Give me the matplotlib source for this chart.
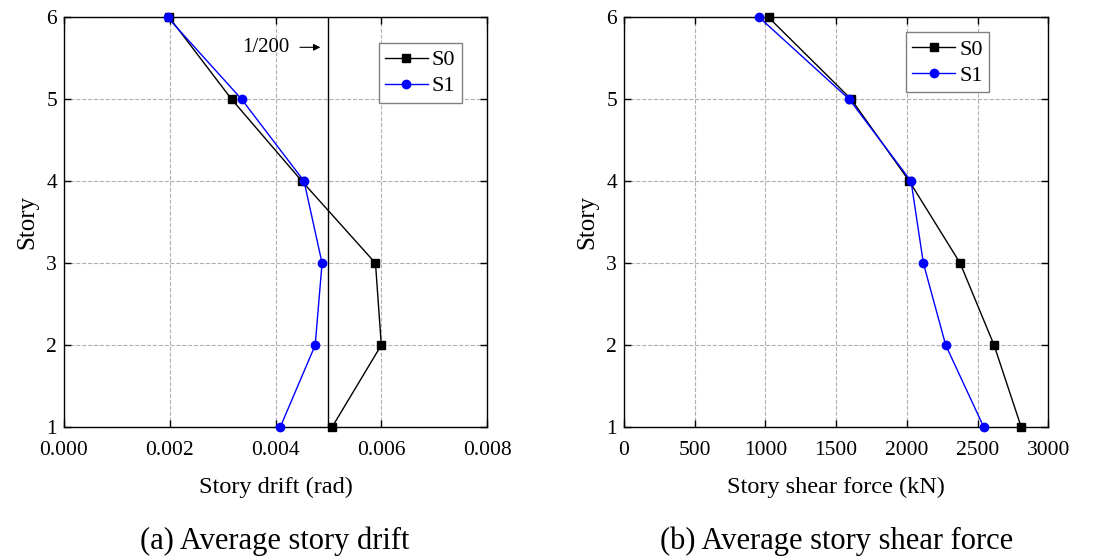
import matplotlib
matplotlib.use("Agg")
import matplotlib.pyplot as plt

plt.rcParams['font.family'] = ['Liberation Serif', 'DejaVu Serif']
plt.rcParams['mathtext.fontset'] = 'stix'

stories = [1, 2, 3, 4, 5, 6]

# (a) average story drift (rad)
drift_s0 = [0.00507, 0.00600, 0.00589, 0.00450, 0.00317, 0.00199]
drift_s1 = [0.00409, 0.00475, 0.00488, 0.00454, 0.00336, 0.00196]
drift_limit = 0.005

# (b) average story shear force (kN)
shear_s0 = [2809, 2617, 2377, 2018, 1607, 1022]
shear_s1 = [2544, 2275, 2117, 2030, 1593, 956]

fig = plt.figure(figsize=(10.99, 5.59), dpi=100)
ax1 = fig.add_axes([0.0582, 0.236, 0.385, 0.733])
ax2 = fig.add_axes([0.5678, 0.236, 0.386, 0.733])


def style(ax):
    ax.set_ylim(1, 6)
    ax.set_yticks(stories)
    ax.grid(True, color='#b0b0b0', linestyle='--', linewidth=0.8)
    ax.set_axisbelow(True)
    ax.tick_params(direction='in', top=True, right=True, labelsize=15.5,
                   length=5, width=1)
    ax.tick_params(axis='x', pad=10)
    ax.tick_params(axis='y', pad=5)
    for sp in ax.spines.values():
        sp.set_linewidth(1.0)
    ax.set_ylabel('Story', fontsize=18, labelpad=6)


def add_legend(ax, anchor):
    ax.legend(loc='upper right', bbox_to_anchor=anchor, fontsize=16,
              fancybox=False, edgecolor='#808080', framealpha=1,
              handlelength=1.9, handletextpad=0.2, borderpad=0.3,
              labelspacing=0.25, borderaxespad=0)


ax1.axvline(drift_limit, color='black', linewidth=1.0)
ax1.plot(drift_s0, stories, color='black', marker='s', markersize=5.5,
         linewidth=1.0, label='S0', clip_on=False, zorder=3)
ax1.plot(drift_s1, stories, color='blue', marker='o', markersize=6,
         linewidth=1.0, label='S1', clip_on=False, zorder=4)
ax1.set_xlim(0, 0.008)
ax1.set_xticks([0, 0.002, 0.004, 0.006, 0.008])
ax1.set_xticklabels(['0.000', '0.002', '0.004', '0.006', '0.008'])
style(ax1)
ax1.set_xlabel('Story drift (rad)', fontsize=17.5, labelpad=12)
ax1.annotate('', xy=(0.00490, 5.634), xytext=(0.00441, 5.634),
             arrowprops=dict(arrowstyle='-|>', color='black', lw=0.8,
                             mutation_scale=10))
ax1.text(0.00427, 5.634, '1/200', fontsize=15, ha='right', va='center')
add_legend(ax1, (0.941, 0.937))

ax2.plot(shear_s0, stories, color='black', marker='s', markersize=5.5,
         linewidth=1.0, label='S0', clip_on=False, zorder=3)
ax2.plot(shear_s1, stories, color='blue', marker='o', markersize=6,
         linewidth=1.0, label='S1', clip_on=False, zorder=4)
ax2.set_xlim(0, 3000)
ax2.set_xticks([0, 500, 1000, 1500, 2000, 2500, 3000])
style(ax2)
ax2.set_xlabel('Story shear force (kN)', fontsize=17.5, labelpad=12)
add_legend(ax2, (0.861, 0.963))

fig.text(0.250, 0.032, '(a) Average story drift', fontsize=22,
         ha='center', va='center')
fig.text(0.761, 0.032, '(b) Average story shear force', fontsize=22,
         ha='center', va='center')

fig.savefig('out.png', dpi=100)
